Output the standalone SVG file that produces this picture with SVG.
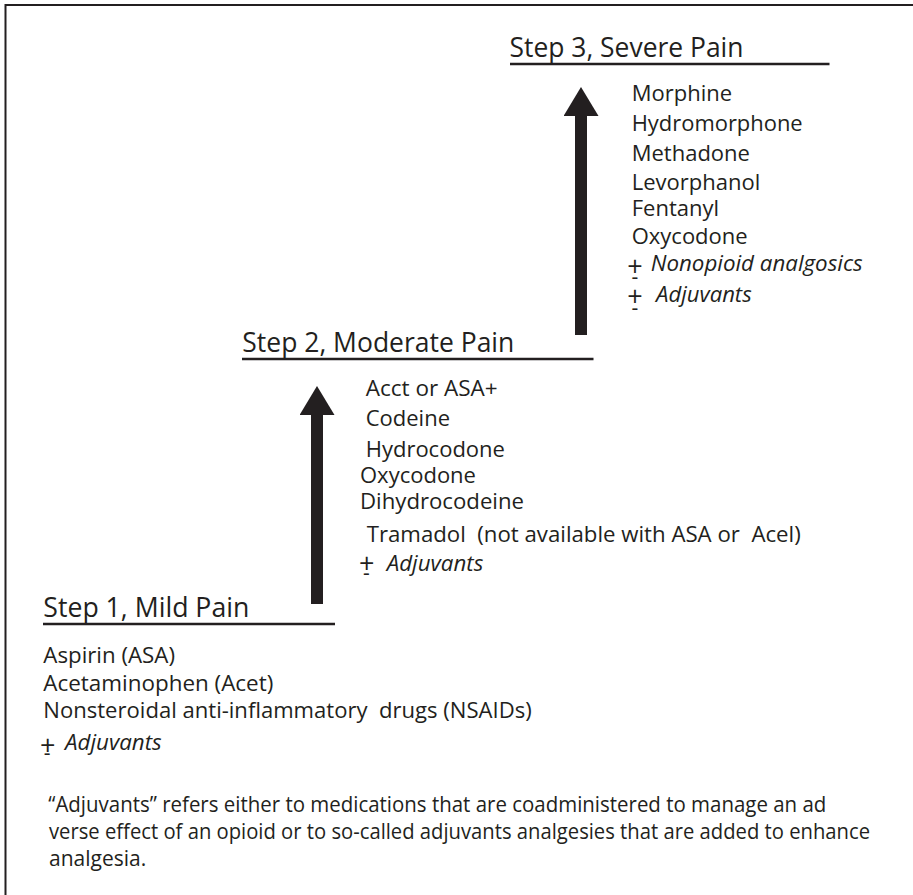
<svg xmlns="http://www.w3.org/2000/svg" width="913" height="895" viewBox="0 0 913 895">
<style>
text{font-family:"Open Sans","Noto Sans","Liberation Sans",sans-serif;fill:#231f20;white-space:pre}
.title{font-size:27.5px}
.item{font-size:22px}
.it{font-size:22px;font-style:italic}
.pm{font-size:27px}
.mn{font-size:21px}
.note{font-size:21px}
.rule{stroke:#231f20;stroke-width:2.5;fill:none}
.shaft{stroke:#231f20;stroke-width:12;fill:none}
</style>
<defs>
<marker id="head" markerUnits="userSpaceOnUse" markerWidth="30" markerHeight="35" refX="1" refY="17.5" orient="auto" viewBox="0 0 30 35">
<path d="M0,0 L29,17.5 L0,35 Z" fill="#231f20"/>
</marker>
</defs>
<rect width="913" height="895" fill="#ffffff"/>
<polyline id="frame" points="5.5,895 5.5,5 913,5" fill="none" stroke="#231f20" stroke-width="2"/>
<g id="connectors">
<line class="shaft" x1="581" y1="335" x2="581" y2="115" marker-end="url(#head)"/>
<line class="shaft" x1="317" y1="604" x2="317" y2="414" marker-end="url(#head)"/>
</g>
<g id="node-step3">
<text class="title" x="509.5" y="56.7" textLength="234" lengthAdjust="spacingAndGlyphs">Step 3, Severe Pain</text>
<line class="rule" x1="510" y1="64" x2="829.5" y2="64"/>
<text class="item" x="631.7" y="101">Morphine</text>
<text class="item" x="631.7" y="131" textLength="171" lengthAdjust="spacingAndGlyphs">Hydromorphone</text>
<text class="item" x="631.7" y="160.7">Methadone</text>
<text class="item" x="631.7" y="190">Levorphanol</text>
<text class="item" x="631.7" y="216">Fentanyl</text>
<text class="item" x="631.7" y="244.3">Oxycodone</text>
<text class="pm" x="627.3" y="276">+<tspan class="mn" x="631.6" y="284">-</tspan></text>
<text class="it" x="650.7" y="270.7" textLength="212" lengthAdjust="spacingAndGlyphs">Nonopioid analgosics</text>
<text class="pm" x="627.3" y="306">+<tspan class="mn" x="631.6" y="315">-</tspan></text>
<text class="it" x="656" y="301.7" textLength="95.7" lengthAdjust="spacingAndGlyphs">Adjuvants</text>
</g>
<g id="node-step2">
<text class="title" x="242.3" y="351.7" textLength="272" lengthAdjust="spacingAndGlyphs">Step 2, Moderate Pain</text>
<line class="rule" x1="242" y1="359" x2="593.5" y2="359"/>
<text class="item" x="365.7" y="396" textLength="132" lengthAdjust="spacingAndGlyphs">Acct or ASA+</text>
<text class="item" x="365.7" y="426">Codeine</text>
<text class="item" x="365.7" y="457.3">Hydrocodone</text>
<text class="item" x="360" y="482.7">Oxycodone</text>
<text class="item" x="360" y="509.3" textLength="164" lengthAdjust="spacingAndGlyphs">Dihydrocodeine</text>
<text class="item" x="366.7" y="541.7" textLength="434" lengthAdjust="spacingAndGlyphs">Tramadol  (not available with ASA or  Acel)</text>
<text class="pm" x="359" y="572.5">+<tspan class="mn" x="363" y="580">-</tspan></text>
<text class="it" x="386.7" y="570.7" textLength="96.6" lengthAdjust="spacingAndGlyphs">Adjuvants</text>
</g>
<g id="node-step1">
<text class="title" x="43.3" y="616.7" textLength="206" lengthAdjust="spacingAndGlyphs">Step 1, Mild Pain</text>
<line class="rule" x1="43" y1="624" x2="335" y2="624"/>
<text class="item" x="43.3" y="663.3" textLength="131.7" lengthAdjust="spacingAndGlyphs">Aspirin (ASA)</text>
<text class="item" x="43.3" y="690.7" textLength="230" lengthAdjust="spacingAndGlyphs">Acetaminophen (Acet)</text>
<text class="item" x="43.3" y="718.3" textLength="488.4" lengthAdjust="spacingAndGlyphs">Nonsteroidal anti-inflammatory  drugs (NSAIDs)</text>
<text class="pm" x="40" y="754.5">+<tspan class="mn" x="43.8" y="760">-</tspan></text>
<text class="it" x="65" y="750" textLength="96.7" lengthAdjust="spacingAndGlyphs">Adjuvants</text>
</g>
<g id="footnote">
<text class="note" x="48.3" y="812" textLength="778" lengthAdjust="spacingAndGlyphs">“Adjuvants” refers either to medications that are coadministered to manage an ad</text>
<text class="note" x="49" y="839" textLength="821" lengthAdjust="spacingAndGlyphs">verse effect of an opioid or to so-called adjuvants analgesies that are added to enhance</text>
<text class="note" x="49" y="866">analgesia.</text>
</g>
</svg>
